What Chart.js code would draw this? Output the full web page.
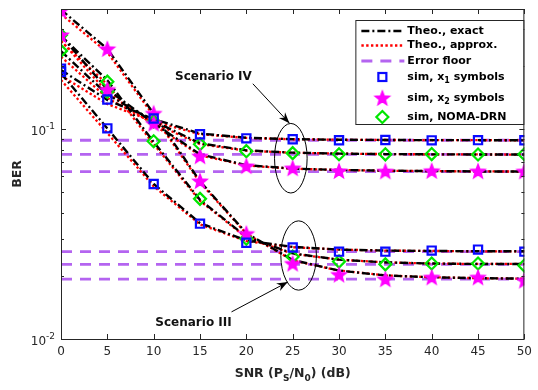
<!DOCTYPE html>
<html><head><meta charset="utf-8">
<script src="https://cdn.jsdelivr.net/npm/chart.js@4.4.1/dist/chart.umd.min.js"></script>
<style>html,body{margin:0;padding:0;background:#fff;}#wrap{width:538px;height:390px;}</style>
</head><body><div id="wrap"><canvas id="c" width="538" height="390"></canvas></div>
<script>
// ---------- data ----------
const snr = [0, 5, 10, 15, 20, 25, 30, 35, 40, 45, 50];

// Scenario IV
const simIV_x1   = [0.1945, 0.1387, 0.1127, 0.0947, 0.0906, 0.0897, 0.0887, 0.0889, 0.0886, 0.0888, 0.0887];
const simIV_x2   = [0.2820, 0.1547, 0.1067, 0.0745, 0.0668, 0.0653, 0.0633, 0.0631, 0.0634, 0.0632, 0.0631];
const simIV_noma = [0.2367, 0.1514, 0.1090, 0.0849, 0.0787, 0.0770, 0.0761, 0.0760, 0.0762, 0.0759, 0.0761];
const exIV_x1    = [0.1920, 0.1380, 0.1120, 0.0955, 0.0912, 0.0898, 0.0892, 0.0890, 0.0888, 0.0888, 0.0887];
const exIV_x2    = [0.2800, 0.1550, 0.1070, 0.0760, 0.0675, 0.0650, 0.0640, 0.0635, 0.0632, 0.0630, 0.0629];
const exIV_noma  = [0.2360, 0.1465, 0.1095, 0.0858, 0.0794, 0.0774, 0.0766, 0.0762, 0.0760, 0.0759, 0.0758];
const apIV_x1    = [0.1800, 0.1320, 0.1090, 0.0948, 0.0910, 0.0897, 0.0892, 0.0890, 0.0888, 0.0888, 0.0887];
const apIV_x2    = [0.2650, 0.1500, 0.1050, 0.0752, 0.0672, 0.0649, 0.0640, 0.0635, 0.0632, 0.0630, 0.0629];
const apIV_noma  = [0.2220, 0.1410, 0.1070, 0.0850, 0.0791, 0.0773, 0.0766, 0.0762, 0.0760, 0.0759, 0.0758];
const floorIV    = [0.0887, 0.0759, 0.0628];   // x1, NOMA-DRN, x2

// Scenario III
const simIII_x1   = [0.1883, 0.1011, 0.0549, 0.0355, 0.0288, 0.0273, 0.0261, 0.0261, 0.0264, 0.0267, 0.0261];
const simIII_x2   = [0.3690, 0.2420, 0.1191, 0.0567, 0.0318, 0.0229, 0.0203, 0.0193, 0.0197, 0.0197, 0.0190];
const simIII_noma = [0.2820, 0.1688, 0.0877, 0.0466, 0.0301, 0.0247, 0.0234, 0.0227, 0.0229, 0.0229, 0.0224];
const exIII_x1    = [0.1850, 0.1010, 0.0549, 0.0357, 0.0295, 0.0275, 0.0267, 0.0264, 0.0263, 0.0262, 0.0262];
const exIII_x2    = [0.3720, 0.2420, 0.1190, 0.0565, 0.0320, 0.0238, 0.0212, 0.0201, 0.0197, 0.0195, 0.0194];
const exIII_noma  = [0.2790, 0.1715, 0.0870, 0.0461, 0.0307, 0.0256, 0.0239, 0.0232, 0.0229, 0.0228, 0.0228];
const apIII_x1    = [0.1720, 0.0960, 0.0535, 0.0352, 0.0293, 0.0274, 0.0267, 0.0264, 0.0263, 0.0262, 0.0262];
const apIII_x2    = [0.3550, 0.2330, 0.1160, 0.0558, 0.0318, 0.0237, 0.0212, 0.0201, 0.0197, 0.0195, 0.0194];
const apIII_noma  = [0.2630, 0.1640, 0.0850, 0.0456, 0.0305, 0.0255, 0.0239, 0.0232, 0.0229, 0.0228, 0.0228];
const floorIII    = [0.0261, 0.0227, 0.0193];  // x1, NOMA-DRN, x2

const yMajorTicks = [0.01, 0.1];
const yMajorLabels = [['10', '-2'], ['10', '-1']];
const yMinorTicks = [0.02, 0.03, 0.04, 0.05, 0.06, 0.07, 0.08, 0.09, 0.2, 0.3];
const xTicks = [0, 5, 10, 15, 20, 25, 30, 35, 40, 45, 50];

const legendLabels = ['Theo., exact', 'Theo., approx.', 'Error floor', 'sim, x|1| symbols', 'sim, x|2| symbols', 'sim, NOMA-DRN'];
const yTitle = 'BER';
const xTitleParts = [['SNR (P', 0], ['S', 1], ['/N', 0], ['0', 1], [') (dB)', 0]];

const annotations = [
  {label: 'Scenario IV', textAt: [16.45, 0.178], arrowFrom: [20.7, 0.165], arrowTo: [24.65, 0.107],
   ellipseX: 24.8, ellipseRx: 1.76, ellipseTop: 0.1067, ellipseBottom: 0.0497},
  {label: 'Scenario III', textAt: [14.3, 0.0119], arrowFrom: [18.4, 0.01347], arrowTo: [24.47, 0.0187],
   ellipseX: 25.64, ellipseRx: 1.92, ellipseTop: 0.0366, ellipseBottom: 0.0171}
];

// ---------- styles ----------
const FONT = 'DejaVu Sans';
const INK = '#262626';
const BLUE = '#0a0aff', MAG = '#ff00ff', GREEN = '#00e600', PURPLE = '#b464f0', RED = '#ff0000';
const EXACT_DASH = [8, 3, 2, 3], APPROX_DASH = [2.4, 2.4], FLOOR_DASH = [11, 8];

function mkStar(color) {
  const c = document.createElement('canvas'); c.width = 20; c.height = 20;
  const g = c.getContext('2d');
  const R = 7.3, r = 3.1, cx = 10, cy = 10.6;
  g.beginPath();
  for (let i = 0; i < 10; i++) {
    const ang = -Math.PI / 2 + i * Math.PI / 5, rr = i % 2 ? r : R;
    g.lineTo(cx + rr * Math.cos(ang), cy + rr * Math.sin(ang));
  }
  g.closePath(); g.fillStyle = color; g.fill();
  g.lineWidth = 1.5; g.strokeStyle = color; g.lineJoin = 'miter'; g.stroke();
  return c;
}
const starImg = mkStar(MAG);

const pts = arr => snr.map((x, i) => ({x, y: arr[i]}));
const markerStyle = {
  x1: {pointStyle: 'rect', pointRadius: 5.8, borderColor: BLUE, pointBorderWidth: 2.2},
  x2: {pointStyle: starImg, pointRadius: 8, borderColor: MAG, pointBorderWidth: 1},
  noma: {pointStyle: 'rectRot', pointRadius: 6, borderColor: GREEN, pointBorderWidth: 2.2}
};

const groups = [
  {sim: simIV_x1, ex: exIV_x1, ap: apIV_x1, kind: 'x1'},
  {sim: simIV_x2, ex: exIV_x2, ap: apIV_x2, kind: 'x2'},
  {sim: simIV_noma, ex: exIV_noma, ap: apIV_noma, kind: 'noma'},
  {sim: simIII_x1, ex: exIII_x1, ap: apIII_x1, kind: 'x1'},
  {sim: simIII_x2, ex: exIII_x2, ap: apIII_x2, kind: 'x2'},
  {sim: simIII_noma, ex: exIII_noma, ap: apIII_noma, kind: 'noma'}
];

const datasets = [];
groups.forEach(g => {
  const m = markerStyle[g.kind];
  datasets.push({data: pts(g.sim), showLine: false, order: 0, pointStyle: m.pointStyle, pointRadius: m.pointRadius,
    pointBorderColor: m.borderColor, pointBackgroundColor: 'rgba(0,0,0,0)', pointBorderWidth: m.pointBorderWidth});
});
groups.forEach(g => {
  datasets.push({data: pts(g.ex), order: 1, borderColor: '#000', borderWidth: 2.4, borderDash: EXACT_DASH,
    pointRadius: 0, tension: 0, fill: false});
});
groups.forEach(g => {
  datasets.push({data: pts(g.ap), order: 2, borderColor: RED, borderWidth: 2.3, borderDash: APPROX_DASH,
    pointRadius: 0, tension: 0, fill: false});
});
floorIV.concat(floorIII).forEach(f => {
  datasets.push({data: [{x: 0, y: f}, {x: 50, y: f}], order: 3, borderColor: PURPLE, borderWidth: 2.8,
    borderDash: FLOOR_DASH, pointRadius: 0, fill: false});
});

// ---------- custom drawing ----------
function drawArrowHead(ctx, x0, y0, x1, y1) {
  const ang = Math.atan2(y1 - y0, x1 - x0), L = 11, W = 4.2, N = 7.5;
  ctx.save(); ctx.translate(x1, y1); ctx.rotate(ang);
  ctx.beginPath(); ctx.moveTo(0, 0); ctx.lineTo(-L, -W); ctx.lineTo(-N, 0); ctx.lineTo(-L, W); ctx.closePath();
  ctx.fill(); ctx.restore();
}

const decor = {
  id: 'decor',
  afterDraw(chart) {
    const {ctx, chartArea: a, scales: {x, y}} = chart;
    ctx.save();
    // frame
    ctx.strokeStyle = INK; ctx.lineWidth = 1; ctx.setLineDash([]);
    ctx.strokeRect(a.left + 0.5, a.top + 0.5, a.right - a.left - 1, a.bottom - a.top);
    // inward ticks on all four sides
    ctx.beginPath();
    xTicks.forEach(v => {
      const px = Math.round(x.getPixelForValue(v)) + 0.5;
      ctx.moveTo(px, a.bottom); ctx.lineTo(px, a.bottom - 5);
      ctx.moveTo(px, a.top); ctx.lineTo(px, a.top + 5);
    });
    yMajorTicks.forEach(v => {
      const py = Math.round(y.getPixelForValue(v)) + 0.5;
      ctx.moveTo(a.left, py); ctx.lineTo(a.left + 5, py);
      ctx.moveTo(a.right, py); ctx.lineTo(a.right - 5, py);
    });
    yMinorTicks.forEach(v => {
      const py = Math.round(y.getPixelForValue(v)) + 0.5;
      ctx.moveTo(a.left, py); ctx.lineTo(a.left + 3, py);
      ctx.moveTo(a.right, py); ctx.lineTo(a.right - 3, py);
    });
    ctx.stroke();
    // y tick labels with superscript
    ctx.fillStyle = INK; ctx.textBaseline = 'middle'; ctx.textAlign = 'right';
    yMajorTicks.forEach((v, i) => {
      const py = y.getPixelForValue(v);
      ctx.font = '9px "' + FONT + '"';
      const sw = ctx.measureText(yMajorLabels[i][1]).width;
      ctx.fillText(yMajorLabels[i][1], a.left - 6, py - 2.5);
      ctx.font = '12px "' + FONT + '"';
      ctx.fillText(yMajorLabels[i][0], a.left - 6 - sw, py + 3);
    });
    // y title
    ctx.save();
    ctx.translate(18, (a.top + a.bottom) / 2);
    ctx.rotate(-Math.PI / 2);
    ctx.font = 'bold 12.5px "' + FONT + '"'; ctx.textAlign = 'center'; ctx.textBaseline = 'middle'; ctx.fillStyle = INK;
    ctx.fillText(yTitle, 0, 0);
    ctx.restore();
    // x title with subscripts
    const big = 'bold 12.5px "' + FONT + '"', small = 'bold 9px "' + FONT + '"';
    let tw = 0;
    xTitleParts.forEach(p => { ctx.font = p[1] ? small : big; tw += ctx.measureText(p[0]).width; });
    let cx = (a.left + a.right) / 2 - tw / 2;
    ctx.textAlign = 'left'; ctx.textBaseline = 'alphabetic'; ctx.fillStyle = INK;
    xTitleParts.forEach(p => {
      ctx.font = p[1] ? small : big;
      ctx.fillText(p[0], cx, 377 + (p[1] ? 4 : 0));
      cx += ctx.measureText(p[0]).width;
    });
    // annotations
    ctx.strokeStyle = '#000'; ctx.fillStyle = '#000'; ctx.lineWidth = 1;
    annotations.forEach(an => {
      const ex = x.getPixelForValue(an.ellipseX);
      const rx = x.getPixelForValue(an.ellipseX + an.ellipseRx) - ex;
      const yt = y.getPixelForValue(an.ellipseTop), yb = y.getPixelForValue(an.ellipseBottom);
      ctx.beginPath(); ctx.ellipse(ex, (yt + yb) / 2, rx, (yb - yt) / 2, 0, 0, Math.PI * 2); ctx.stroke();
      const x0 = x.getPixelForValue(an.arrowFrom[0]), y0 = y.getPixelForValue(an.arrowFrom[1]);
      const x1 = x.getPixelForValue(an.arrowTo[0]), y1 = y.getPixelForValue(an.arrowTo[1]);
      ctx.beginPath(); ctx.moveTo(x0, y0); ctx.lineTo(x1, y1); ctx.stroke();
      drawArrowHead(ctx, x0, y0, x1, y1);
      ctx.font = 'bold 12px "' + FONT + '"'; ctx.textAlign = 'center'; ctx.textBaseline = 'middle';
      ctx.fillStyle = '#111';
      ctx.fillText(an.label, x.getPixelForValue(an.textAt[0]), y.getPixelForValue(an.textAt[1]));
      ctx.fillStyle = '#000';
    });
    // legend
    const L = a.right - 169, T = a.top + 11, W = 168, H = 104;
    ctx.fillStyle = '#fff'; ctx.fillRect(L, T, W, H);
    ctx.strokeStyle = INK; ctx.lineWidth = 1; ctx.setLineDash([]);
    ctx.strokeRect(L + 0.5, T + 0.5, W, H);
    const rowY = [11, 25.5, 41, 57, 78, 97];
    const lx0 = L + 6, lx1 = L + 49, mx = L + 27, tx = L + 52;
    const lineRows = [[ '#000', 2.4, EXACT_DASH], [RED, 2.3, APPROX_DASH], [PURPLE, 2.8, FLOOR_DASH]];
    lineRows.forEach((r, i) => {
      ctx.strokeStyle = r[0]; ctx.lineWidth = r[1]; ctx.setLineDash(r[2]);
      ctx.beginPath(); ctx.moveTo(lx0, T + rowY[i]); ctx.lineTo(lx1, T + rowY[i]); ctx.stroke();
    });
    ctx.setLineDash([]);
    ctx.strokeStyle = BLUE; ctx.lineWidth = 2.2;
    ctx.strokeRect(mx - 4, T + rowY[3] - 4, 8, 8);
    ctx.drawImage(starImg, mx - 10, T + rowY[4] - 10);
    ctx.strokeStyle = GREEN; ctx.beginPath();
    ctx.moveTo(mx, T + rowY[5] - 6); ctx.lineTo(mx + 6, T + rowY[5]); ctx.lineTo(mx, T + rowY[5] + 6); ctx.lineTo(mx - 6, T + rowY[5]);
    ctx.closePath(); ctx.stroke();
    ctx.fillStyle = '#000'; ctx.textAlign = 'left'; ctx.textBaseline = 'middle';
    legendLabels.forEach((s, i) => {
      const parts = s.split('|');
      let px = tx;
      parts.forEach((p, k) => {
        const sub = k % 2 === 1;
        ctx.font = sub ? 'bold 8px "' + FONT + '"' : 'bold 11px "' + FONT + '"';
        ctx.fillText(p, px, T + rowY[i] + (sub ? 4 : 0));
        px += ctx.measureText(p).width;
      });
    });
    ctx.restore();
  }
};

new Chart(document.getElementById('c'), {
  type: 'line',
  data: {datasets},
  options: {
    responsive: false, animation: false,
    layout: {padding: {left: 0, right: 9, top: 7, bottom: 0}},
    plugins: {legend: {display: false}, tooltip: {enabled: false}},
    elements: {line: {tension: 0, borderCapStyle: 'butt'}},
    scales: {
      x: {type: 'linear', min: 0, max: 50,
          ticks: {stepSize: 5, color: INK, font: {family: FONT, size: 12}, padding: 6, maxRotation: 0, autoSkip: false},
          grid: {display: false, drawTicks: false}, border: {display: false},
          afterFit: s => { s.height = 51; }},
      y: {type: 'logarithmic', min: 0.01, max: 0.375,
          ticks: {display: false},
          grid: {display: false, drawTicks: false}, border: {display: false},
          afterFit: s => { s.width = 61; }}
    }
  },
  plugins: [decor]
});
</script>
</body></html>
